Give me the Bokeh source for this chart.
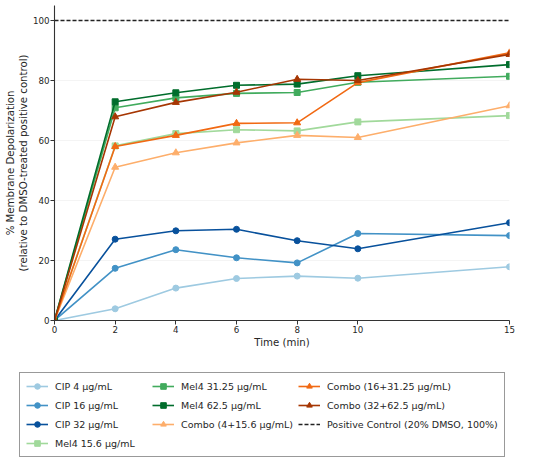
from bokeh.plotting import figure
from bokeh.layouts import column
from bokeh.models import Range1d, Legend, LegendItem, FixedTicker
from bokeh.embed import file_html
from bokeh.resources import INLINE

time = [0, 2, 4, 6, 8, 10, 15]
cip4 = [0, 3.9, 10.8, 14.0, 14.8, 14.1, 17.9]
cip16 = [0, 17.4, 23.6, 20.9, 19.2, 29.0, 28.3]
cip32 = [0, 27.1, 29.9, 30.4, 26.6, 23.9, 32.6]
mel15 = [0, 58.2, 62.3, 63.6, 63.2, 66.2, 68.3]
mel31 = [0, 70.9, 74.2, 75.7, 76.0, 79.4, 81.4]
mel62 = [0, 72.9, 75.9, 78.4, 78.8, 81.6, 85.3]
combo4 = [0, 51.1, 55.9, 59.2, 61.7, 61.0, 71.6]
combo16 = [0, 58.0, 61.7, 65.7, 65.9, 79.3, 89.2]
combo32 = [0, 67.9, 72.7, 76.1, 80.4, 80.0, 88.7]
control_value = 100
control_label = "Positive Control (20% DMSO, 100%)"

series = [
    ("CIP 4 µg/mL", cip4, "#9ecae1", "circle"),
    ("CIP 16 µg/mL", cip16, "#4292c6", "circle"),
    ("CIP 32 µg/mL", cip32, "#08519c", "circle"),
    ("Mel4 15.6 µg/mL", mel15, "#a1d99b", "square"),
    ("Mel4 31.25 µg/mL", mel31, "#41ab5d", "square"),
    ("Mel4 62.5 µg/mL", mel62, "#006d2c", "square"),
    ("Combo (4+15.6 µg/mL)", combo4, "#fdae6b", "triangle"),
    ("Combo (16+31.25 µg/mL)", combo16, "#f16913", "triangle"),
    ("Combo (32+62.5 µg/mL)", combo32, "#a63603", "triangle"),
]

# row-major order for a 3-column legend (columns hold 4, 3, 3 items)
legend_order = [
    "CIP 4 µg/mL", "Mel4 31.25 µg/mL", "Combo (16+31.25 µg/mL)",
    "CIP 16 µg/mL", "Mel4 62.5 µg/mL", "Combo (32+62.5 µg/mL)",
    "CIP 32 µg/mL", "Combo (4+15.6 µg/mL)", control_label,
    "Mel4 15.6 µg/mL",
]

FONT = "DejaVu Sans"
TXT = "#262626"

p = figure(width=550, height=362, output_backend="svg", toolbar_location=None,
           x_range=Range1d(0, 15), y_range=Range1d(0, 105),
           min_border_left=54, min_border_right=41, min_border_top=5,
           min_border_bottom=42)
p.outline_line_color = None

# legend-only figure under the chart (its marks lie outside its visible range)
p2 = figure(width=550, height=102, output_backend="svg", toolbar_location=None,
            x_range=Range1d(100, 101), y_range=Range1d(100, 101),
            x_axis_type=None, y_axis_type=None, min_border=0)
p2.outline_line_color = None
p2.grid.visible = False

item_map = {}
for label, ys, color, marker in series:
    size = 7 if marker == "triangle" else 6
    p.line(time, ys, line_color=color, line_width=1.6)
    p.scatter(time, ys, marker=marker, size=size, fill_color=color, line_color=color)
    l1 = p2.line(time, ys, line_color=color, line_width=1.6)
    l2 = p2.scatter(time, ys, marker=marker, size=size, fill_color=color, line_color=color)
    item_map[label] = LegendItem(label=label, renderers=[l1, l2])

p.line([time[0], time[-1]], [control_value, control_value],
       line_color="#222222", line_width=1.3, line_dash="4 2")
lc = p2.line([time[0], time[-1]], [control_value, control_value],
             line_color="#222222", line_width=1.3, line_dash="4 2")
item_map[control_label] = LegendItem(label=control_label, renderers=[lc])
items = [item_map[k] for k in legend_order]

p.xaxis.ticker = FixedTicker(ticks=time)
p.yaxis.ticker = FixedTicker(ticks=[0, 20, 40, 60, 80, 100])
p.xgrid.visible = False
p.ygrid.grid_line_color = "#e8e8e8"
p.ygrid.grid_line_alpha = 0.6
p.ygrid.grid_line_width = 0.8

for ax in (p.xaxis, p.yaxis):
    ax.axis_line_color = "#333333"
    ax.axis_line_width = 1.1
    ax.major_tick_line_color = "#333333"
    ax.major_tick_out = 4
    ax.major_tick_in = 0
    ax.minor_tick_line_color = None
    ax.major_label_text_font = FONT
    ax.major_label_text_font_size = "8.7px"
    ax.major_label_text_color = TXT
    ax.axis_label_text_font = FONT
    ax.axis_label_text_font_size = "10.2px"
    ax.axis_label_text_font_style = "normal"
    ax.axis_label_text_color = TXT

p.xaxis.axis_label = "Time (min)"
p.yaxis.axis_label = "% Membrane Depolarization\n(relative to DMSO-treated positive control)"
p.xaxis.major_label_standoff = 1
p.xaxis.axis_label_standoff = 1
p.yaxis.axis_label_standoff = 1
p.yaxis.major_label_standoff = 1

legend = Legend(items=items, location=(19, 7), orientation="horizontal", ncols=3,
                label_text_font=FONT, label_text_font_size="9.5px",
                label_text_color=TXT, glyph_width=22, glyph_height=14,
                label_width=92, label_standoff=7, spacing=5, padding=6, margin=0,
                border_line_color="#333333", border_line_width=1.1,
                background_fill_color="white", background_fill_alpha=1.0)
p2.add_layout(legend, "center")

open("out.html", "w").write(file_html(column(p, column(p2), spacing=0), INLINE))
